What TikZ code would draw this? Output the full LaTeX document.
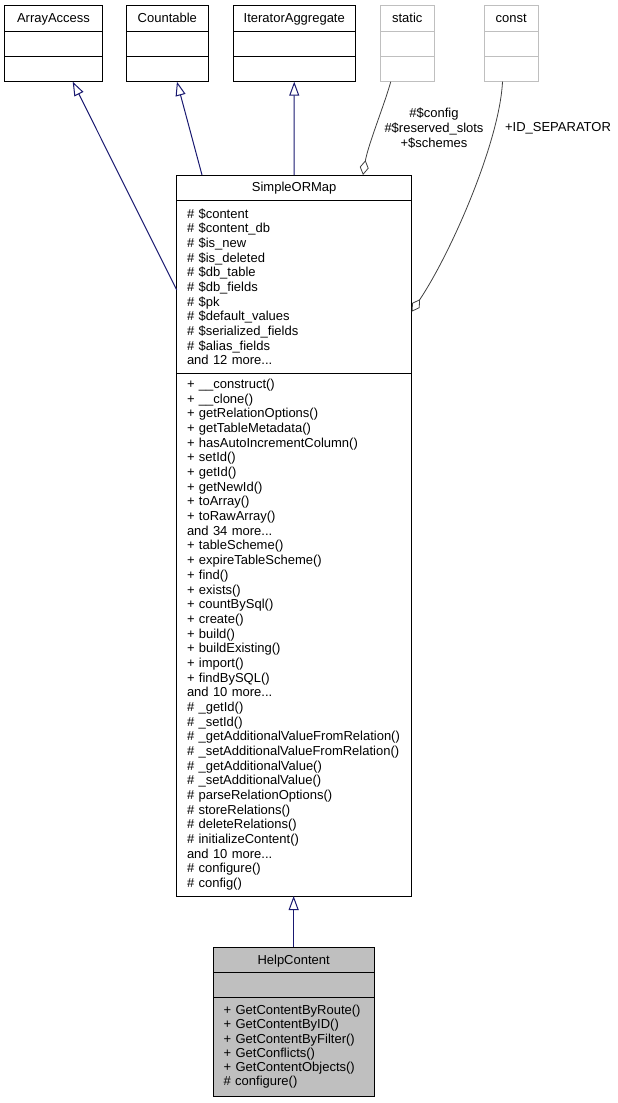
\documentclass[tikz,border=0pt]{standalone}
\usepackage{fontspec}
\setmainfont{Liberation Sans}
\usetikzlibrary{arrows.meta,positioning}
\definecolor{inhblue}{HTML}{191970}
\definecolor{edgegray}{HTML}{404040}
\definecolor{boxgray}{HTML}{BFBFBF}
\newcommand{\umlfont}{\fontsize{13}{14.67}\selectfont}

\begin{document}
\begin{tikzpicture}[x=1pt,y=-1pt,
    every node/.style={draw,rectangle,inner sep=0pt,outer sep=0pt,line width=1pt,font=\umlfont},
    title/.style={text height=11.5pt,text depth=2.9pt},
    head/.style={title,minimum height=26pt},
    part/.style={minimum height=25.35pt},
    members/.style={align=left,inner xsep=10.3pt,text width=#1},
    ghost/.style={draw=boxgray},
    edgetext/.style={draw=none,align=center,font=\fontsize{13}{15}\selectfont},
    inherit/.style={draw=inhblue,line width=1pt,-{Triangle[open,length=14pt,width=10pt]}},
    aggr/.style={draw=edgegray,line width=0.8pt,-{Diamond[open,length=15pt,width=9pt]}}]
  \useasboundingbox (0,0) rectangle (618,1103);

  % interfaces and pseudo classes on top
  \node [head, minimum width=97.6pt] (arrhead) at (53.5,18) {ArrayAccess};
  \node [part, minimum width=97.6pt, below=0pt of arrhead] (arrattr) {};
  \node [part, minimum width=97.6pt, below=0pt of arrattr] (arrops) {};
  \node [head, minimum width=81.3pt, right=24.4pt of arrhead] (cnthead) {Countable};
  \node [part, minimum width=81.3pt, below=0pt of cnthead] (cntattr) {};
  \node [part, minimum width=81.3pt, below=0pt of cntattr] (cntops) {};
  \node [head, minimum width=122.5pt, right=25pt of cnthead] (iterhead) {IteratorAggregate};
  \node [part, minimum width=122.5pt, below=0pt of iterhead] (iterattr) {};
  \node [part, minimum width=122.5pt, below=0pt of iterattr] (iterops) {};
  \node [head, ghost, minimum width=54.5pt, right=24.5pt of iterhead] (statichead) {static};
  \node [part, ghost, minimum width=54.5pt, below=0pt of statichead] (staticattr) {};
  \node [part, ghost, minimum width=54.5pt, below=0pt of staticattr] (staticops) {};
  \node [head, ghost, minimum width=54.5pt, right=49.5pt of statichead] (consthead) {const};
  \node [part, ghost, minimum width=54.5pt, below=0pt of consthead] (constattr) {};
  \node [part, ghost, minimum width=54.5pt, below=0pt of constattr] (constops) {};

  % SimpleORMap
  \node [title, minimum height=25pt, minimum width=235pt] (somhead) at (294.2,187.5) {SimpleORMap};
  \node [members=214.4pt, minimum height=173.3pt, below=0pt of somhead] (somattr)
    {\# \$content\\\# \$content\_db\\\# \$is\_new\\\# \$is\_deleted\\\# \$db\_table\\
     \# \$db\_fields\\\# \$pk\\\# \$default\_values\\\# \$serialized\_fields\\
     \# \$alias\_fields\\and 12 more...};
  \node [members=214.4pt, minimum height=522.7pt, below=0pt of somattr] (somops)
    {+ \_\_construct()\\+ \_\_clone()\\+ getRelationOptions()\\+ getTableMetadata()\\
     + hasAutoIncrementColumn()\\+ setId()\\+ getId()\\+ getNewId()\\+ toArray()\\
     + toRawArray()\\and 34 more...\\+ tableScheme()\\+ expireTableScheme()\\+ find()\\
     + exists()\\+ countBySql()\\+ create()\\+ build()\\+ buildExisting()\\+ import()\\
     + findBySQL()\\and 10 more...\\\# \_getId()\\\# \_setId()\\
     \# \_getAdditionalValueFromRelation()\\\# \_setAdditionalValueFromRelation()\\
     \# \_getAdditionalValue()\\\# \_setAdditionalValue()\\\# parseRelationOptions()\\
     \# storeRelations()\\\# deleteRelations()\\\# initializeContent()\\and 10 more...\\
     \# configure()\\\# config()};

  % HelpContent
  \node [title, fill=boxgray, minimum height=25pt, minimum width=160.7pt] (helphead) at (293.65,959.8) {HelpContent};
  \node [fill=boxgray, minimum height=25pt, minimum width=160.7pt, below=0pt of helphead] (helpattr) {};
  \node [fill=boxgray, members=140pt, inner xsep=10.35pt, minimum height=99pt,
    font=\fontsize{13}{14.2}\selectfont, below=0pt of helpattr] (helpops)
    {+ GetContentByRoute()\\+ GetContentByID()\\+ GetContentByFilter()\\
     + GetConflicts()\\+ GetContentObjects()\\\# configure()};

  \draw [inherit] ([yshift=-90pt]somattr.north west) -- ([xshift=19.2pt]arrops.south);
  \draw [inherit] ([xshift=-92.2pt]somhead.north) -- ([xshift=9.6pt]cntops.south);
  \draw [inherit] (somhead.north) -- (iterops.south);
  \draw [inherit] (helphead.north) -- (helphead.north |- somops.south);

  \draw [aggr] ([xshift=-16.5pt]staticops.south) .. controls +(-6,22) and +(5,-30) .. ([xshift=68.8pt]somhead.north);
  \draw [aggr] ([xshift=-8.75pt]constops.south) .. controls +(-3,60) and +(40,-60) .. ([yshift=-111.7pt]somattr.north east);
  \node [edgetext] (cfglabel) at (434,128) {\#\$config\\\#\$reserved\_slots\\+\$schemes};
  \node [edgetext] (seplabel) at (558,128) {+ID\_SEPARATOR};
\end{tikzpicture}
\end{document}
